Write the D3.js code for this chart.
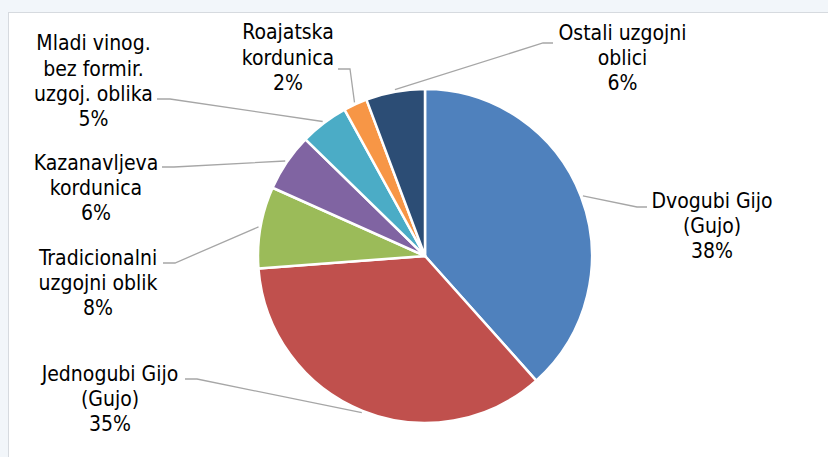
<!DOCTYPE html>
<head>
    <meta charset="utf-8">
    <script src="https://d3js.org/d3.v7.min.js"></script>
    <style>
      body { margin: 0; background: #f2f6fa; }
    </style>
</head>
<body>
<svg width="828" height="457" font-family="'DejaVu Sans Condensed', 'DejaVu Sans', sans-serif" font-size="21"></svg>
<script>

// data (shares in %)
let categories = [
  ["Dvogubi Gijo", "(Gujo)"],
  ["Jednogubi Gijo", "(Gujo)"],
  ["Tradicionalni", "uzgojni oblik"],
  ["Kazanavljeva", "kordunica"],
  ["Mladi vinog.", "bez formir.", "uzgoj. oblika"],
  ["Roajatska", "kordunica"],
  ["Ostali uzgojni", "oblici"]
];
let values = [38.4, 35.4, 7.9, 5.6, 4.7, 2.3, 5.7];
let colors = ["#4f81bd", "#c0504d", "#9bbb59", "#8064a2", "#4bacc6", "#f79646", "#2c4d75"];

// label layout: text centre x, first line centre y, leader end x/y, elbow x
let labelX = [712, 110, 98, 96, 93.5, 288, 622.5];
let labelY = [200, 373, 257, 162, 42.7, 31.7, 32.3];
let leaderEnd = [[647, 207], [185, 379], [163, 263], [162, 167], [157, 99], [338, 69], [553, 43]];
let leaderElbow = [637, 197, 175, 174, 170, 350, 543];

let svg = d3.select("svg");
let width = +svg.attr("width"),
    height = +svg.attr("height");

// plot area
svg.append("rect")
    .attr("x", 8.5).attr("y", 12.5)
    .attr("width", width).attr("height", height)
    .attr("fill", "#fff")
    .attr("stroke", "#d6dadf");

let cx = 425, cy = 256, radius = 167;
let g = svg.append("g").attr("transform", "translate(" + cx + "," + cy + ")");

let data = values.map(function(v, i) { return { name: categories[i], value: v, i: i }; });

let pie = d3.pie()
    .sort(null)
    .value(function(d) { return d.value; });

let arc = d3.arc().innerRadius(0).outerRadius(radius);
let arcs = pie(data);

g.selectAll("path")
  .data(arcs)
  .enter().append("path")
    .attr("d", arc)
    .attr("fill", function(d) { return colors[d.data.i]; })
    .attr("stroke", "#fff")
    .attr("stroke-width", 2.5)
    .attr("stroke-linejoin", "round");

// leader lines
let line = d3.line();
svg.append("g")
  .selectAll("path")
  .data(arcs)
  .enter().append("path")
    .attr("fill", "none")
    .attr("stroke", "#a6a6a6")
    .attr("stroke-width", 1.3)
    .attr("d", function(d) {
      let a = (d.startAngle + d.endAngle) / 2, r = radius + 2;
      let p = [cx + r * Math.sin(a), cy - r * Math.cos(a)];
      let e = leaderEnd[d.data.i];
      return line([p, [leaderElbow[d.data.i], e[1]], e]);
    });

// labels
let pct = function(v) { return Math.round(v) + "%"; };
let lineH = 25.3;
let labels = svg.append("g")
    .attr("text-anchor", "middle")
    .attr("fill", "#000")
  .selectAll("text")
  .data(arcs)
  .enter().append("text")
    .attr("transform", function(d) { return "translate(" + labelX[d.data.i] + "," + labelY[d.data.i] + ")"; });

labels.selectAll("tspan")
  .data(function(d) { return d.data.name.concat([pct(d.data.value)]); })
  .enter().append("tspan")
    .attr("x", 0)
    .attr("y", function(d, j) { return j * lineH; })
    .attr("dy", "0.36em")
    .text(function(d) { return d; });

</script>
</body>
